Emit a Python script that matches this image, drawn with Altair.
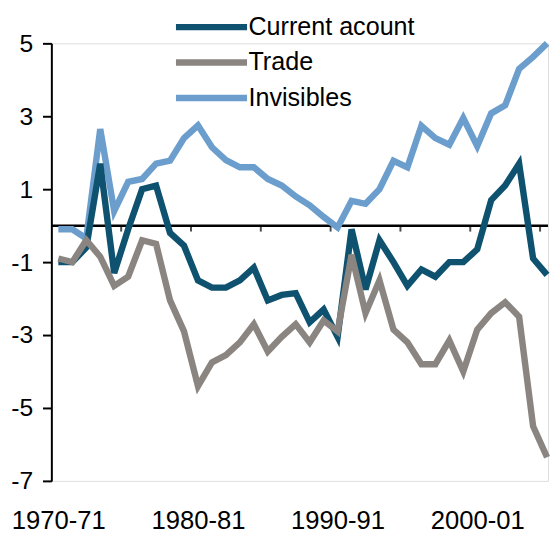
import altair as alt
import pandas as pd

years = list(range(1970, 2006))
current_account = [-1.0, -1.0, -0.6, 1.7, -1.3, -0.1, 1.0, 1.1, -0.2, -0.55,
                   -1.5, -1.7, -1.7, -1.5, -1.15, -2.05, -1.9, -1.85, -2.65, -2.3,
                   -3.05, -0.1, -1.75, -0.4, -1.0, -1.65, -1.2, -1.4, -1.0, -1.0,
                   -0.65, 0.7, 1.1, 1.7, -0.9, -1.35]
trade = [-0.9, -1.0, -0.4, -0.85, -1.65, -1.4, -0.4, -0.5, -2.05, -2.9,
         -4.4, -3.75, -3.55, -3.2, -2.7, -3.45, -3.05, -2.7, -3.2, -2.6,
         -2.9, -0.8, -2.4, -1.5, -2.85, -3.2, -3.8, -3.8, -3.15, -4.0,
         -2.85, -2.4, -2.1, -2.5, -5.5, -6.35]
invisibles = [-0.1, -0.1, -0.35, 2.65, 0.4, 1.2, 1.28, 1.7, 1.78, 2.4,
              2.75, 2.15, 1.8, 1.6, 1.6, 1.28, 1.1, 0.8, 0.56, 0.24,
              -0.05, 0.68, 0.6, 1.0, 1.78, 1.6, 2.74, 2.4, 2.22, 2.95,
              2.18, 3.08, 3.3, 4.3, 4.63, 5.0]

series_names = ["Current acount", "Trade", "Invisibles"]
series_colors = ["#0e5270", "#8a8581", "#6b9ecc"]
x_label_years = [1970, 1980, 1990, 2000]
x_tick_bounds = [1974.5, 1979.5, 1984.5, 1989.5, 1994.5, 1999.5, 2004.5]
y_ticks = [-7, -5, -3, -1, 1, 3, 5]

rows = []
for name, vals in zip(series_names, [current_account, trade, invisibles]):
    for yr, v in zip(years, vals):
        rows.append({"year": yr, "series": name, "value": v})
df = pd.DataFrame(rows)
zero_df = pd.DataFrame({"v": [0]})
tick_df = pd.DataFrame({"pos": x_tick_bounds, "v": [0] * len(x_tick_bounds)})

FONT = "Liberation Sans"

x_scale = alt.Scale(domain=[1969.5, 2005.07], nice=False, zero=False)
y_scale = alt.Scale(domain=[-7, 5], nice=False, zero=False)
color_scale = alt.Scale(domain=series_names, range=series_colors)

x_axis = alt.Axis(values=x_label_years, title=None, domain=False, ticks=False, tickSize=0,
                  grid=False, labelExpr="toString(datum.value) + '-' + slice(toString(datum.value + 1), 2)",
                  labelFont=FONT, labelFontSize=26, labelColor="black", labelPadding=27,
                  labelFlush=False, labelOverlap=False, labelBound=False)
y_axis = alt.Axis(values=y_ticks, title=None, grid=False, domain=True, domainColor="black",
                  domainWidth=2, ticks=True, tickColor="black", tickWidth=2, tickSize=9,
                  labelExpr="toString(datum.value)",
                  labelFont=FONT, labelFontSize=25, labelColor="black", labelPadding=10)

legend = alt.Legend(title=None, orient="none", legendX=141, legendY=-38,
                    symbolType="M-2,0H2", symbolSize=1300, symbolStrokeWidth=6.5,
                    labelFont=FONT, labelFontSize=25.5, labelColor="black", labelLimit=400,
                    labelOffset=16, rowPadding=1, padding=0)


def line_layer(name):
    return alt.Chart(df).transform_filter(alt.datum.series == name).mark_line(
        strokeWidth=6.5
    ).encode(
        x=alt.X("year:Q", scale=x_scale, axis=x_axis),
        y=alt.Y("value:Q", scale=y_scale, axis=y_axis),
        color=alt.Color("series:N", scale=color_scale, legend=legend),
    )


zero_line = alt.Chart(zero_df).mark_rule(color="black", strokeWidth=2.5).encode(
    y=alt.Y("v:Q", scale=y_scale, axis=y_axis)
)
zero_ticks = alt.Chart(tick_df).mark_tick(
    color="black", thickness=2, size=6, yOffset=3, orient="vertical"
).encode(
    x=alt.X("pos:Q", scale=x_scale, axis=x_axis),
    y=alt.Y("v:Q", scale=y_scale, axis=y_axis),
)

chart = alt.layer(
    zero_line,
    zero_ticks,
    line_layer("Invisibles"),
    line_layer("Current acount"),
    line_layer("Trade"),
).properties(
    width=504,
    height=444,
    autosize=alt.AutoSizeParams(type="none"),
    padding={"left": 44, "top": 32, "right": 2, "bottom": 49},
).configure_view(stroke=None).configure(background="white")

chart.save("out.html", embed_options={"renderer": "svg", "actions": False})
